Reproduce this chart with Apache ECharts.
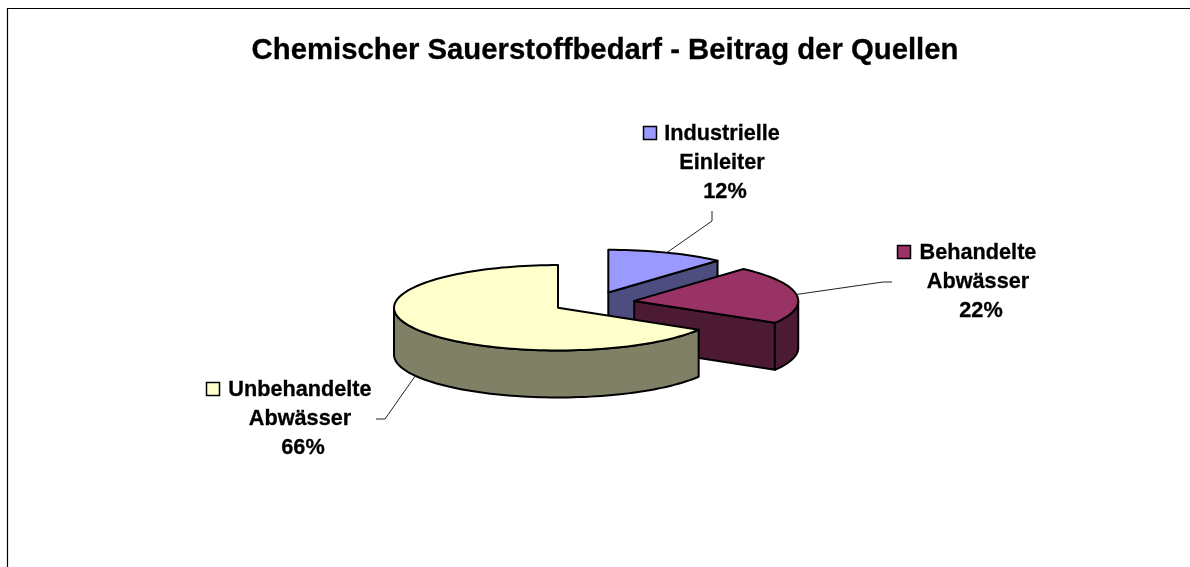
<!DOCTYPE html>
<html lang="de">
	<head>
		<meta charset="UTF-8" />
		<title>Chemischer Sauerstoffbedarf</title>
		<script src="https://cdn.jsdelivr.net/npm/echarts@6/dist/echarts.min.js"></script>
		<style>
			html, body { margin: 0; padding: 0; background: #fff; }
		</style>
	</head>
	<body>
		<div id="main" style="width: 1190px; height: 567px"></div>
		<script type="text/javascript">
			const chartTitle = "Chemischer Sauerstoffbedarf - Beitrag der Quellen";
			const categories = ["Industrielle\nEinleiter", "Behandelte\nAbwässer", "Unbehandelte\nAbwässer"];
			// the labels show them rounded
			const shares = [11.6, 22, 66.4];

			const topColors = ["#9999ff", "#993366", "#ffffcc"];
			const sideColors = ["#4d4d80", "#4d1a33", "#808066"];

			// projected pie: ellipse radii, wall height, how far slices are pulled out
			const pie = { cx: 593.7, cy: 302.5, rx: 164, ry: 42.7, depth: 47, explode: 0.25 };

			// where each label block sits, and the bend of its leader line
			const labelCenterX = [722, 978, 300];
			const labelTopY = [134, 253, 390];
			const keyX = [643, 897, 206];
			const leaderBends = [
				[[712, 221], [712, 211]],
				[[883, 282], [892, 282]],
				[[385, 419], [376, 419]],
			];
			const labelFont = 22;
			const lineGap = 29.2;
			const labelSquash = 0.985;
			const titleSquash = 0.977;

			const total = shares.reduce((a, b) => a + b, 0);
			const startAngles = shares.map((v, i) => (shares.slice(0, i).reduce((a, b) => a + b, 0) / total) * 360);

			function rad(deg) {
				return (deg * Math.PI) / 180;
			}

			function arcPoints(c, from, to, dy) {
				const pts = [];
				const steps = Math.max(2, Math.ceil(Math.abs(to - from) / 2));
				for (let k = 0; k <= steps; k++) {
					const t = rad(from + ((to - from) * k) / steps);
					pts.push([c[0] + pie.rx * Math.sin(t), c[1] - pie.ry * Math.cos(t) + dy]);
				}
				return pts;
			}

			function poly(points, fill) {
				return {
					type: "polygon",
					shape: { points },
					style: { fill, stroke: "#000", lineWidth: 2, lineJoin: "round" },
				};
			}

			function renderSlice(params, api) {
				const i = params.dataIndex;
				const value = api.value(0);
				const from = startAngles[i];
				const to = from + (value / total) * 360;
				const mid = rad((from + to) / 2);
				const c = [
					pie.cx + pie.explode * pie.rx * Math.sin(mid),
					pie.cy - pie.explode * pie.ry * Math.cos(mid),
				];
				const children = [];

				// flat cut face, seen only when it turns towards the viewer
				if (to < 180) {
					const e = arcPoints(c, to, to, 0)[0];
					children.push(poly([c, e, [e[0], e[1] + pie.depth], [c[0], c[1] + pie.depth]], sideColors[i]));
				}
				// rounded wall, only the front half of the ellipse
				const wallFrom = Math.max(from, 90);
				const wallTo = Math.min(to, 270);
				if (wallFrom < wallTo) {
					const upper = arcPoints(c, wallFrom, wallTo, 0);
					const lower = arcPoints(c, wallFrom, wallTo, pie.depth).reverse();
					children.push(poly(upper.concat(lower), sideColors[i]));
				}
				children.push(poly([c].concat(arcPoints(c, from, to, 0)), topColors[i]));

				// leader line from the rim at the middle of the slice
				const rimDeg = (from + to) / 2;
				const rim = arcPoints(c, rimDeg, rimDeg, Math.cos(mid) < 0 ? pie.depth : 0)[0];
				children.push({
					type: "polyline",
					shape: { points: [rim].concat(leaderBends[i]) },
					style: { fill: null, stroke: "#222", lineWidth: 1 },
				});

				// key square and text lines
				children.push({
					type: "rect",
					shape: { x: keyX[i] + 0.5, y: labelTopY[i] - 7.5, width: 13, height: 13 },
					style: { fill: topColors[i], stroke: "#000", lineWidth: 1.5 },
				});
				const lines = categories[i].split("\n").concat([Math.round(value) + "%"]);
				lines.forEach((line, n) => {
					children.push({
						type: "text",
						x: labelCenterX[i] + (n === 2 ? 3 : 0),
						y: labelTopY[i] + n * lineGap,
						scaleX: labelSquash,
						style: {
							text: line,
							fill: "#000",
							stroke: "#000",
							lineWidth: 0.3,
							align: "center",
							verticalAlign: "middle",
							font: "bold " + labelFont + "px 'Liberation Sans'",
						},
					});
				});
				return { type: "group", children };
			}

			const chart = echarts.init(document.getElementById("main"));
			chart.setOption({
				animation: false,
				backgroundColor: "#fff",
				graphic: [
					{
						type: "rect",
						shape: { x: 7.5, y: 8.5, width: 1300, height: 700 },
						style: { fill: null, stroke: "#000", lineWidth: 1.2 },
					},
					{
						type: "text",
						x: 605,
						y: 51,
						scaleX: titleSquash,
						style: {
							text: chartTitle,
							fill: "#000",
							stroke: "#000",
							lineWidth: 0.3,
							align: "center",
							verticalAlign: "middle",
							font: "bold 30px 'Liberation Sans'",
						},
					},
				],
				series: [
					{
						type: "custom",
						coordinateSystem: "none",
						renderItem: renderSlice,
						data: shares.map((v) => [v]),
					},
				],
			});
		</script>
	</body>
</html>
